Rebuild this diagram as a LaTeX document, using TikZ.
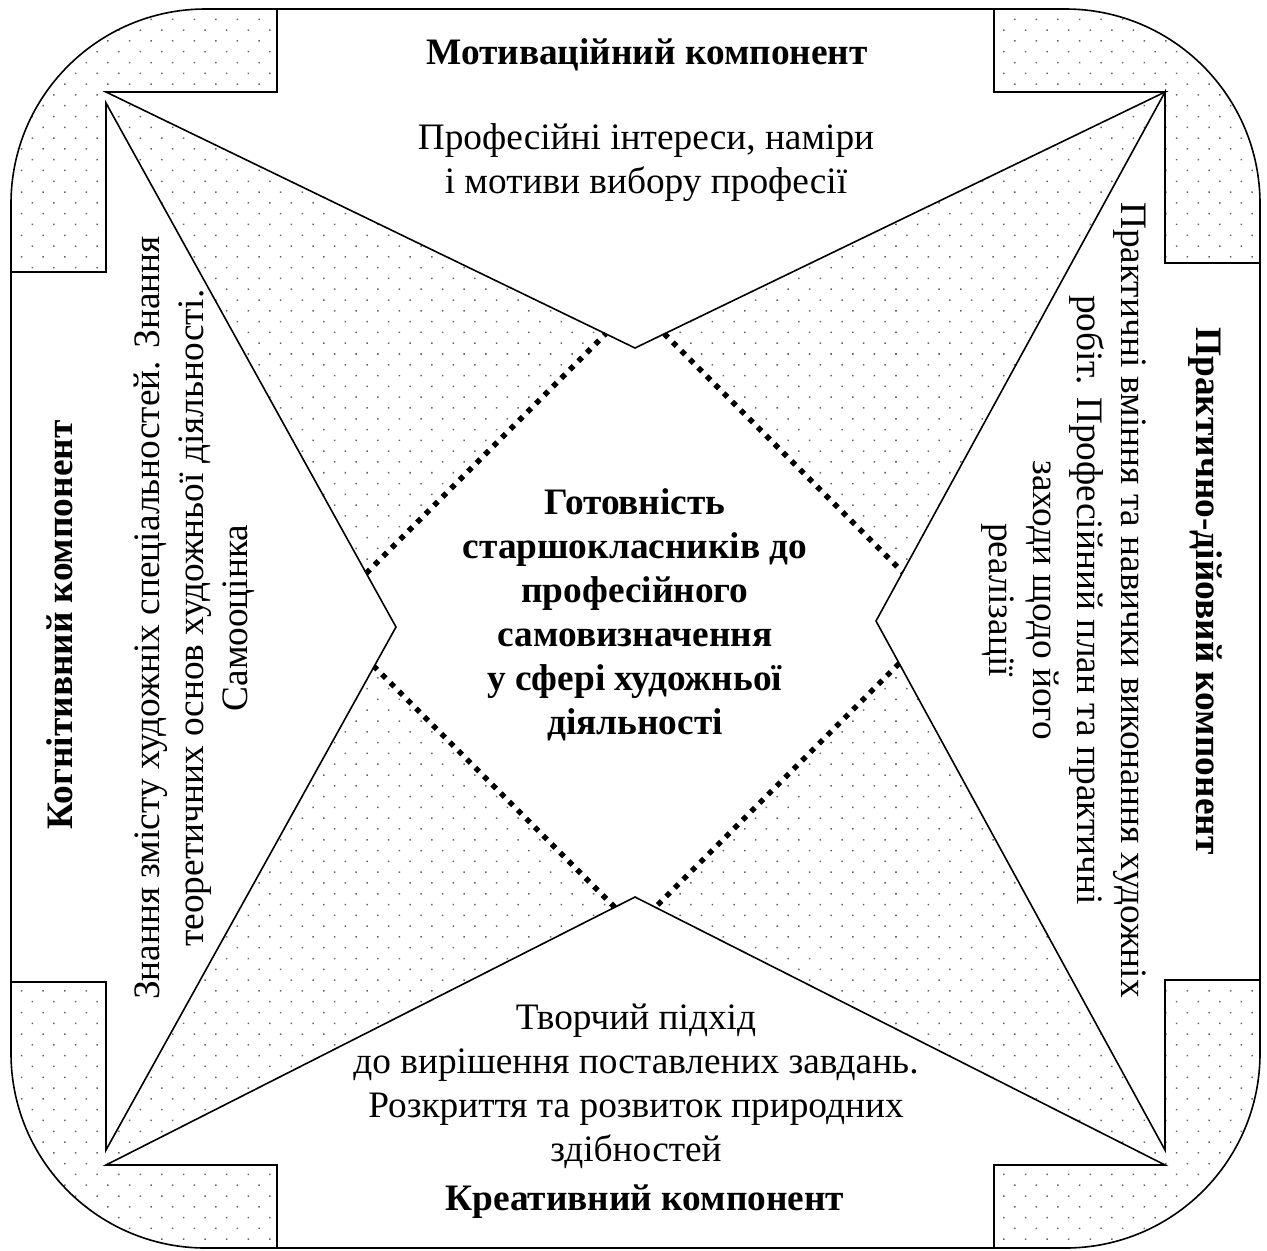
\documentclass[tikz,border=0pt]{standalone}
\usepackage{fontspec}
\setmainfont{Liberation Serif}
\usetikzlibrary{patterns.meta}

\tikzset{
  boxtext/.style={font=\fontsize{28}{33}\selectfont, align=center, inner sep=0pt},
  headtext/.style={boxtext, font=\bfseries\fontsize{28}{33}\selectfont},
  armfill/.style={fill=white, draw=black, line width=1.2pt},
  dotline/.style={line width=4pt, dash pattern=on 4pt off 5pt},
  dotback/.style={pattern={Dots[angle=45,distance=11.45pt,radius=0.8pt]}, pattern color=black!60},
}

\begin{document}
\begin{tikzpicture}[x=0.75pt,y=0.75pt,yscale=-1,xscale=1]
\useasboundingbox (0,0) rectangle (1267,1250);

%frame corners
\coordinate (fTL) at (11,9);
\coordinate (fBR) at (1260,1248);

%Shape: Rounded Rect, dotted ground [id:frameBack]
\fill [dotback, rounded corners=146pt] (fTL) rectangle (fBR);

%centre diamond corners
\coordinate (cN) at (635,304.5);
\coordinate (cE) at (946.5,616);
\coordinate (cS) at (635,927.5);
\coordinate (cW) at (323.5,616);
%Shape: Diamond, white centre [id:centreFill]
\fill [white] (cN) -- (cE) -- (cS) -- (cW) -- cycle;

%apexes of the four arms
\coordinate (tA) at (635,348);
\coordinate (rA) at (876,621);
\coordinate (bA) at (635,897);
\coordinate (lA) at (396,627);

%Shape: Polygon, top arm [id:armTop]
\draw [armfill] (277,9) -- (994,9) -- (994,92) -- (1165,92) -- (tA) -- (106,92) -- (277,92) -- cycle ;
%Shape: Polygon, right arm [id:armRight]
\draw [armfill] (1165,92) -- (1165,263) -- (1260,263) -- (1260,980) -- (1165,980) -- (1165,1150) -- (rA) -- cycle ;
%Shape: Polygon, bottom arm [id:armBottom]
\draw [armfill] (106,1165) -- (277,1165) -- (277,1248) -- (994,1248) -- (994,1165) -- (1165,1165) -- (bA) -- cycle ;
%Shape: Polygon, left arm [id:armLeft]
\draw [armfill] (106,103) -- (lA) -- (106,1150) -- (106,982) -- (11,982) -- (11,272) -- (106,272) -- cycle ;

%ends of the dotted lines
\coordinate (dTLa) at (366.2,573.3);
\coordinate (dTLb) at (605.7,333.8);
\coordinate (dTRa) at (664.3,333.8);
\coordinate (dTRb) at (902.7,572.2);
\coordinate (dBRa) at (899.1,663.4);
\coordinate (dBRb) at (655.3,907.2);
\coordinate (dBLa) at (614.8,907.3);
\coordinate (dBLb) at (374.1,666.5);

%Straight Lines, dotted [id:dotTL]
\draw [dotline] (dTLa) -- (dTLb) ;
%Straight Lines, dotted [id:dotTR]
\draw [dotline] (dTRa) -- (dTRb) ;
%Straight Lines, dotted [id:dotBR]
\draw [dotline] (dBRa) -- (dBRb) ;
%Straight Lines, dotted [id:dotBL]
\draw [dotline] (dBLa) -- (dBLb) ;

%Shape: Rounded Rect, outline [id:frameLine]
\draw [line width=1.2pt, rounded corners=146pt] (fTL) rectangle (fBR);

%Text nodes
\node [headtext] (motHead) at (647,55) {Мотиваційний компонент};
\node [boxtext] (motText) at (646,163) {Професійні інтереси, наміри\\і мотиви вибору професії};
\node [headtext] (coreText) at (635,615) {Готовність\\старшокласників до\\професійного\\самовизначення\\у сфері художньої\\діяльності};
\node [boxtext] (creText) at (636,1086) {Творчий підхід\\до вирішення поставлених завдань.\\Розкриття та розвиток природних\\здібностей};
\node [headtext] (creHead) at (645,1202) {Креативний компонент};
\node [headtext, rotate=90] (cogHead) at (60,625) {Когнітивний компонент};
\node [boxtext, rotate=90] (cogText) at (194,618) {Знання змісту художніх спеціальностей. Знання\\теоретичних основ художньої діяльності.\\Самооцінка};
\node [headtext, rotate=-90] (pracHead) at (1205,591) {Практично-дійовий компонент};
\node [boxtext, rotate=-90] (pracText) at (1064,600) {Практичні вміння та навички виконання художніх\\робіт. Професійний план та практичні\\заходи щодо його\\реалізації};

\end{tikzpicture}
\end{document}
